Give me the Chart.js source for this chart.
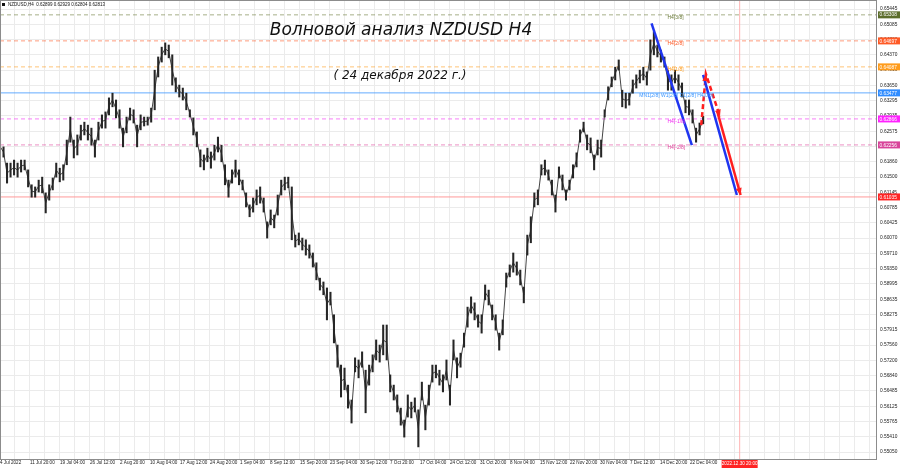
<!DOCTYPE html>
<html>
<head>
<meta charset="utf-8">
<script src="https://cdn.jsdelivr.net/npm/chart.js@4.4.1/dist/chart.umd.min.js"></script>
<style>
  html, body { margin: 0; padding: 0; background: #fff; }
  #wrap { width: 900px; height: 468px; }
</style>
</head>
<body>
<div id="wrap"><canvas id="chart" width="900" height="468"></canvas></div>
<script>
// NZDUSD H4, one sample every 3.75 bars (high / low of the sample)
const highs = [
  0.6237, 0.6221, 0.6183, 0.6183, 0.6190, 0.6183, 0.6190, 0.6190, 0.6167, 0.6132,
  0.6127, 0.6143, 0.6150, 0.6113, 0.6132, 0.6148, 0.6183, 0.6171, 0.6179, 0.6237,
  0.6291, 0.6237, 0.6249, 0.6272, 0.6279, 0.6272, 0.6265, 0.6237, 0.6279, 0.6296,
  0.6303, 0.6336, 0.6347, 0.6331, 0.6308, 0.6265, 0.6291, 0.6312, 0.6308, 0.6272,
  0.6296, 0.6291, 0.6291, 0.6312, 0.6401, 0.6432, 0.6455, 0.6465, 0.6460, 0.6437,
  0.6383, 0.6366, 0.6359, 0.6347, 0.6308, 0.6289, 0.6256, 0.6214, 0.6202, 0.6218,
  0.6209, 0.6225, 0.6244, 0.6225, 0.6179, 0.6143, 0.6167, 0.6190, 0.6167, 0.6143,
  0.6113, 0.6085, 0.6101, 0.6120, 0.6127, 0.6101, 0.6045, 0.6073, 0.6061, 0.6108,
  0.6143, 0.6150, 0.6150, 0.6127, 0.6014, 0.6019, 0.6007, 0.6003, 0.5991, 0.5972,
  0.5949, 0.5913, 0.5904, 0.5890, 0.5880, 0.5827, 0.5756, 0.5709, 0.5702, 0.5662,
  0.5627, 0.5726, 0.5721, 0.5740, 0.5697, 0.5709, 0.5733, 0.5768, 0.5756, 0.5803,
  0.5803, 0.5686, 0.5662, 0.5639, 0.5608, 0.5580, 0.5639, 0.5622, 0.5632, 0.5604,
  0.5669, 0.5615, 0.5662, 0.5709, 0.5709, 0.5697, 0.5686, 0.5721, 0.5662, 0.5768,
  0.5726, 0.5737, 0.5784, 0.5845, 0.5869, 0.5855, 0.5827, 0.5827, 0.5897, 0.5885,
  0.5850, 0.5827, 0.5784, 0.5815, 0.5925, 0.5944, 0.5972, 0.5951, 0.5932, 0.5892,
  0.6014, 0.6057, 0.6113, 0.6120, 0.6179, 0.6190, 0.6167, 0.6143, 0.6108, 0.6174,
  0.6155, 0.6120, 0.6143, 0.6179, 0.6207, 0.6261, 0.6279, 0.6249, 0.6242, 0.6202,
  0.6237, 0.6237, 0.6308, 0.6362, 0.6385, 0.6408, 0.6425, 0.6354, 0.6347, 0.6347,
  0.6378, 0.6390, 0.6401, 0.6408, 0.6397, 0.6472, 0.6491, 0.6460, 0.6448, 0.6432,
  0.6401, 0.6390, 0.6401, 0.6390, 0.6371, 0.6331, 0.6331, 0.6308, 0.6265, 0.6277,
  0.6293
]
const lows = [
  0.6207, 0.6197, 0.6136, 0.6150, 0.6155, 0.6150, 0.6162, 0.6167, 0.6127, 0.6103,
  0.6103, 0.6115, 0.6113, 0.6066, 0.6096, 0.6120, 0.6150, 0.6139, 0.6143, 0.6179,
  0.6232, 0.6195, 0.6202, 0.6237, 0.6249, 0.6237, 0.6225, 0.6197, 0.6237, 0.6265,
  0.6265, 0.6296, 0.6315, 0.6289, 0.6265, 0.6221, 0.6254, 0.6284, 0.6277, 0.6221,
  0.6261, 0.6270, 0.6272, 0.6279, 0.6308, 0.6385, 0.6420, 0.6437, 0.6430, 0.6366,
  0.6350, 0.6338, 0.6331, 0.6308, 0.6291, 0.6249, 0.6221, 0.6174, 0.6167, 0.6186,
  0.6171, 0.6190, 0.6209, 0.6186, 0.6132, 0.6103, 0.6136, 0.6150, 0.6132, 0.6120,
  0.6080, 0.6057, 0.6068, 0.6085, 0.6089, 0.6068, 0.6007, 0.6038, 0.6031, 0.6061,
  0.6108, 0.6120, 0.6125, 0.6003, 0.5986, 0.5991, 0.5979, 0.5967, 0.5960, 0.5939,
  0.5909, 0.5885, 0.5874, 0.5815, 0.5850, 0.5761, 0.5704, 0.5634, 0.5651, 0.5608,
  0.5573, 0.5693, 0.5679, 0.5704, 0.5597, 0.5662, 0.5693, 0.5721, 0.5716, 0.5733,
  0.5721, 0.5646, 0.5627, 0.5599, 0.5568, 0.5540, 0.5587, 0.5585, 0.5599, 0.5517,
  0.5627, 0.5557, 0.5615, 0.5669, 0.5679, 0.5662, 0.5646, 0.5674, 0.5615, 0.5721,
  0.5679, 0.5704, 0.5751, 0.5798, 0.5831, 0.5815, 0.5798, 0.5784, 0.5862, 0.5850,
  0.5815, 0.5791, 0.5744, 0.5780, 0.5892, 0.5916, 0.5927, 0.5920, 0.5897, 0.5855,
  0.5967, 0.5996, 0.6080, 0.6085, 0.6155, 0.6155, 0.6143, 0.6108, 0.6068, 0.6148,
  0.6120, 0.6096, 0.6120, 0.6148, 0.6174, 0.6232, 0.6256, 0.6214, 0.6207, 0.6167,
  0.6202, 0.6197, 0.6291, 0.6331, 0.6362, 0.6378, 0.6401, 0.6315, 0.6312, 0.6319,
  0.6347, 0.6359, 0.6371, 0.6378, 0.6366, 0.6401, 0.6437, 0.6432, 0.6420, 0.6408,
  0.6354, 0.6354, 0.6371, 0.6354, 0.6338, 0.6301, 0.6296, 0.6277, 0.6232, 0.6249,
  0.6275
]
const barStep = 3.75   // H4 bars per sample

// time axis: one label every 32 bars, grid every 16
const timeLabels = [
  "4 Jul 2022", "11 Jul 20:00", "19 Jul 04:00", "26 Jul 12:00", "2 Aug 20:00",
  "10 Aug 04:00", "17 Aug 12:00", "24 Aug 20:00", "1 Sep 04:00", "8 Sep 12:00",
  "15 Sep 20:00", "23 Sep 04:00", "30 Sep 12:00", "7 Oct 20:00", "17 Oct 04:00",
  "24 Oct 12:00", "31 Oct 20:00", "8 Nov 04:00", "15 Nov 12:00", "22 Nov 20:00",
  "30 Nov 04:00", "7 Dec 12:00", "14 Dec 20:00", "22 Dec 04:00"
]
const priceTicks = [
  0.65445, 0.65085, 0.64730, 0.64370, 0.64010, 0.63650, 0.63295, 0.62935, 0.62575, 0.62215,
  0.61860, 0.61500, 0.61145, 0.60785, 0.60425, 0.60070, 0.59710, 0.59350, 0.58995, 0.58635,
  0.58275, 0.57915, 0.57560, 0.57200, 0.56840, 0.56485, 0.56125, 0.55765, 0.55410, 0.55050
]

// murrey levels
const levelPrices = [0.65308, 0.64697, 0.64087, 0.63477, 0.62866, 0.62256]
const levelNames = ["H4[3/8]", "H4[2/8]", "H4[1/8]", "MN1[2/8] W1[2/8] D1[2/8] H4[0/8]", "H4[-1/8]", "H4[-2/8]"]
const levelColors = ["#6b7b3a", "#ff5a26", "#ff9c1c", "#3d97ff", "#f22cf2", "#e0449c"]
const levelBoxColors = ["#5d6e2c", "#ff5a26", "#ff9c1c", "#2f8cff", "#ff22ff", "#d8449a"]
const levelDashed = [true, true, true, false, true, true]
const levelTextBar = [712, 712, 712, 682, 712, 712]

// cursor
const cursorPrice = 0.61035
const cursorBar = 789
const cursorLabel = "2022.12.30 20:00"

// wave markup
const waveDown = [{ x: 695, y: 0.6511 }, { x: 738, y: 0.6225 }]
const waveDashed = [{ x: 748, y: 0.6272 }, { x: 753, y: 0.6392 }, { x: 768, y: 0.6292 }]
const waveBlue = [{ x: 750, y: 0.6390 }, { x: 786, y: 0.6108 }]
const waveRed = [{ x: 765, y: 0.6305 }, { x: 790, y: 0.6108 }]

const header = "NZDUSD,H4  0.62899 0.62929 0.62804 0.62813"
const title = "Волновой анализ NZDUSD H4"
const subtitle = "( 24 декабря 2022 г.)"

const X_MAX = 935.5
const Y_MIN = 0.54886
const Y_MAX = 0.65633

const candles = highs.map((h, i) => ({ x: i * barStep, y: [lows[i], h] }))
const mids = highs.map((h, i) => ({ x: i * barStep, y: (h + lows[i]) / 2 }))

function hLine(p) { return [{ x: 0, y: p }, { x: X_MAX, y: p }] }

const datasets = [
  { type: "line", data: waveDown, borderColor: "#1f35f0", borderWidth: 2.5, pointRadius: 0, order: 0 },
  { type: "line", data: waveBlue, borderColor: "#1f35f0", borderWidth: 2.5, pointRadius: 0, order: 0 },
  { type: "line", data: waveRed, borderColor: "#ff1f1f", borderWidth: 2.5, pointRadius: 0, order: 0 },
  { type: "line", data: waveDashed, borderColor: "#ff1f1f", borderWidth: 2.5, borderDash: [5, 3], pointRadius: 0, order: 0 },
  { type: "bar", data: candles, backgroundColor: "#262626", barThickness: 1.4, order: 1 },
  { type: "line", data: mids, borderColor: "#444", borderWidth: 1, pointRadius: 0, order: 1 },
  { type: "line", data: hLine(cursorPrice), borderColor: "#ff9a9a", borderWidth: 1, pointRadius: 0, order: 2 },
  { type: "line", data: [{ x: cursorBar, y: Y_MIN }, { x: cursorBar, y: Y_MAX }], borderColor: "#ffb4b4", borderWidth: 1, pointRadius: 0, order: 2 }
]
levelPrices.forEach((p, i) => {
  datasets.push({
    type: "line", data: hLine(p), borderColor: levelColors[i] + (levelDashed[i] ? "99" : "cc"),
    borderWidth: 1, borderDash: levelDashed[i] ? [4, 3] : [], pointRadius: 0, order: 2
  })
})

function arrowHead(ctx, x1, y1, x2, y2, color) {
  const a = Math.atan2(y2 - y1, x2 - x1)
  ctx.save()
  ctx.fillStyle = color
  ctx.beginPath()
  ctx.moveTo(x2, y2)
  ctx.lineTo(x2 - 7 * Math.cos(a) + 3 * Math.sin(a), y2 - 7 * Math.sin(a) - 3 * Math.cos(a))
  ctx.lineTo(x2 - 7 * Math.cos(a) - 3 * Math.sin(a), y2 - 7 * Math.sin(a) + 3 * Math.cos(a))
  ctx.closePath()
  ctx.fill()
  ctx.restore()
}

function priceBox(ctx, x0, py, text, bg) {
  ctx.fillStyle = bg
  ctx.fillRect(x0, py - 3.5, 22, 7)
  ctx.fillStyle = "#fff"
  ctx.font = '4.8px "Liberation Sans"'
  ctx.textAlign = "left"
  ctx.textBaseline = "middle"
  ctx.fillText(text, x0 + 1.5, py + 0.3)
}

const overlay = {
  id: "overlay",
  afterDraw(chart) {
    const { ctx, chartArea: a, scales: { x, y } } = chart
    ctx.save()

    // frame
    ctx.strokeStyle = "#8c8c8c"
    ctx.lineWidth = 1
    ctx.strokeRect(a.left + 0.5, a.top - 0.5, a.right - a.left - 1, a.bottom - a.top + 1)

    // header
    ctx.fillStyle = "#111"
    ctx.fillRect(2, 3, 3, 3)
    ctx.font = '4.5px "Liberation Sans"'
    ctx.textAlign = "left"
    ctx.textBaseline = "middle"
    ctx.fillText(header, 8, 4.5)

    // titles
    ctx.fillStyle = "#111"
    ctx.textAlign = "center"
    ctx.font = 'italic 17px "DejaVu Sans"'
    ctx.fillText(title, 401, 31)
    ctx.font = 'italic 12px "DejaVu Sans"'
    ctx.fillText(subtitle, 400, 76)

    // level names
    ctx.font = '5px "Liberation Sans"'
    ctx.textAlign = "left"
    levelPrices.forEach((p, i) => {
      ctx.fillStyle = levelColors[i]
      ctx.fillText(levelNames[i], x.getPixelForValue(levelTextBar[i]), y.getPixelForValue(p) + 2.5)
    })

    // arrows
    const px = pt => [x.getPixelForValue(pt.x), y.getPixelForValue(pt.y)]
    const [d0, d1, d2] = waveDashed.map(px)
    arrowHead(ctx, ...d0, ...d1, "#ff1f1f")
    arrowHead(ctx, ...d1, ...d2, "#ff1f1f")
    const [r0, r1] = waveRed.map(px)
    arrowHead(ctx, ...r0, ...r1, "#ff1f1f")

    // price boxes on the right axis
    levelPrices.forEach((p, i) => priceBox(ctx, a.right + 1, y.getPixelForValue(p), p.toFixed(5), levelBoxColors[i]))
    priceBox(ctx, a.right + 1, y.getPixelForValue(cursorPrice), cursorPrice.toFixed(5), "#ff2424")

    // time box of the cursor
    const cx = x.getPixelForValue(cursorBar)
    ctx.fillStyle = "#ff2424"
    ctx.fillRect(cx - 18, a.bottom + 1, 36, 8)
    ctx.fillStyle = "#fff"
    ctx.font = '4.6px "Liberation Sans"'
    ctx.textAlign = "center"
    ctx.fillText(cursorLabel, cx, a.bottom + 5.2)

    ctx.restore()
  }
}

new Chart(document.getElementById("chart"), {
  type: "bar",
  data: { datasets },
  options: {
    responsive: false,
    animation: false,
    events: [],
    layout: { padding: { top: 1, left: 0, right: 0, bottom: 0 } },
    plugins: { legend: { display: false }, tooltip: { enabled: false } },
    scales: {
      x: {
        type: "linear",
        position: "bottom",
        offset: false,
        min: 0,
        max: X_MAX,
        border: { display: false },
        grid: { color: "#ebebeb", drawTicks: false, offset: false },
        afterBuildTicks: s => {
          const t = []
          for (let v = 0; v < X_MAX; v += 16) t.push({ value: v })
          s.ticks = t
        },
        afterFit: s => { s.height = 9; s.paddingLeft = 0; s.paddingRight = 0 },
        ticks: {
          autoSkip: false,
          maxRotation: 0,
          align: "start",
          padding: 1,
          color: "#222",
          font: { family: "Liberation Sans", size: 4.6 },
          callback: v => (v % 32 === 0 ? (timeLabels[v / 32] || "") : "")
        }
      },
      y: {
        position: "right",
        min: Y_MIN,
        max: Y_MAX,
        border: { display: false },
        grid: { color: "#ebebeb", drawTicks: false },
        afterBuildTicks: s => { s.ticks = priceTicks.map(v => ({ value: v })) },
        afterFit: s => { s.width = 23; s.paddingTop = 0; s.paddingBottom = 0 },
        ticks: {
          padding: 3,
          color: "#222",
          font: { family: "Liberation Sans", size: 4.8 },
          callback: v => v.toFixed(5)
        }
      }
    }
  },
  plugins: [overlay]
})
</script>
</body>
</html>
